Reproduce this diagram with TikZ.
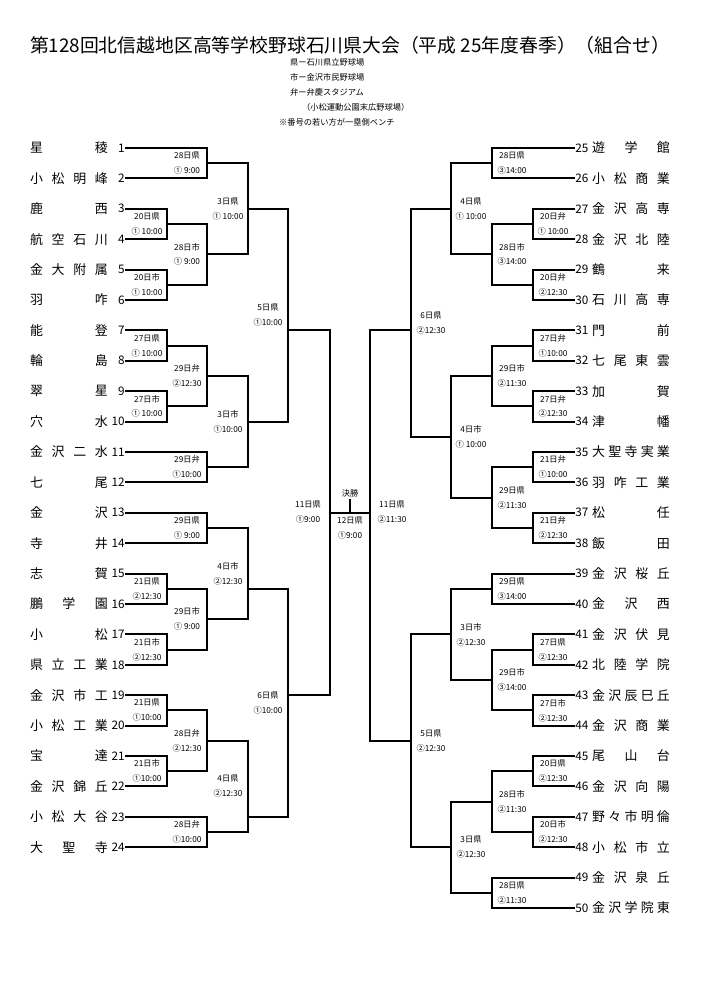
\documentclass[tikz,border=0pt]{standalone}
\usepackage{fontspec}
\setmainfont{Noto Sans CJK JP}
\usetikzlibrary{positioning}
\tikzset{bline/.style={line width=1.6pt, line cap=rect},
  lbl/.style={font=\fontsize{7}{12.7}\selectfont, align=center, inner sep=0pt},
  tnum/.style={font=\fontsize{10}{10}\selectfont, inner sep=1pt},
  tname/.style={font=\fontsize{11}{11}\selectfont, inner sep=0pt}}

\begin{document}
\begin{tikzpicture}[x=0.85pt, y=-0.85pt]
\useasboundingbox (0,0) rectangle (700,990);

\node[font=\fontsize{16}{16}\selectfont] (title) at (350,45) {第128回北信越地区高等学校野球石川県大会（平成 25年度春季）（組合せ）};
\node[lbl, anchor=west] (n1) at (290,62) {県ー石川県立野球場};
\node[lbl, anchor=west] (n2) at (290,77) {市ー金沢市民野球場};
\node[lbl, anchor=west] (n3) at (290,92) {弁ー弁慶スタジアム};
\node[lbl, anchor=west] (n4) at (302,107) {（小松運動公園末広野球場）};
\node[lbl, anchor=west] (n5) at (279,122) {※番号の若い方が一塁側ベンチ};

% left teams
\foreach \n/\nm/\xe in {1/{星\hfill 稜}/207, 2/{小\hfill 松\hfill 明\hfill 峰}/207,
  3/{鹿\hfill 西}/167, 4/{航\hfill 空\hfill 石\hfill 川}/167, 5/{金\hfill 大\hfill 附\hfill 属}/167,
  6/{羽\hfill 咋}/167, 7/{能\hfill 登}/167, 8/{輪\hfill 島}/167, 9/{翠\hfill 星}/167,
  10/{穴\hfill 水}/167, 11/{金\hfill 沢\hfill 二\hfill 水}/207, 12/{七\hfill 尾}/207,
  13/{金\hfill 沢}/207, 14/{寺\hfill 井}/207, 15/{志\hfill 賀}/167, 16/{鵬\hfill 学\hfill 園}/167,
  17/{小\hfill 松}/167, 18/{県\hfill 立\hfill 工\hfill 業}/167, 19/{金\hfill 沢\hfill 市\hfill 工}/167,
  20/{小\hfill 松\hfill 工\hfill 業}/167, 21/{宝\hfill 達}/167, 22/{金\hfill 沢\hfill 錦\hfill 丘}/167,
  23/{小\hfill 松\hfill 大\hfill 谷}/207, 24/{大\hfill 聖\hfill 寺}/207}{
  \node[tnum, anchor=east] (num\n) at (126,{148+(\n-1)*30.4}) {\n};
  \node[tname, anchor=east] (team\n) at (108,{148+(\n-1)*30.4}) {\hbox to 66pt{\nm}};
  \draw[bline] (num\n.east) -- (\xe,{148+(\n-1)*30.4});
}

% right teams
\foreach \n/\nm/\xe in {25/{遊\hfill 学\hfill 館}/492, 26/{小\hfill 松\hfill 商\hfill 業}/492,
  27/{金\hfill 沢\hfill 高\hfill 専}/533, 28/{金\hfill 沢\hfill 北\hfill 陸}/533, 29/{鶴\hfill 来}/533,
  30/{石\hfill 川\hfill 高\hfill 専}/533, 31/{門\hfill 前}/533, 32/{七\hfill 尾\hfill 東\hfill 雲}/533,
  33/{加\hfill 賀}/533, 34/{津\hfill 幡}/533, 35/{大\hfill 聖\hfill 寺\hfill 実\hfill 業}/533,
  36/{羽\hfill 咋\hfill 工\hfill 業}/533, 37/{松\hfill 任}/533, 38/{飯\hfill 田}/533,
  39/{金\hfill 沢\hfill 桜\hfill 丘}/492, 40/{金\hfill 沢\hfill 西}/492, 41/{金\hfill 沢\hfill 伏\hfill 見}/533,
  42/{北\hfill 陸\hfill 学\hfill 院}/533, 43/{金\hfill 沢\hfill 辰\hfill 巳\hfill 丘}/533,
  44/{金\hfill 沢\hfill 商\hfill 業}/533, 45/{尾\hfill 山\hfill 台}/533, 46/{金\hfill 沢\hfill 向\hfill 陽}/533,
  47/{野\hfill 々\hfill 市\hfill 明\hfill 倫}/533, 48/{小\hfill 松\hfill 市\hfill 立}/533,
  49/{金\hfill 沢\hfill 泉\hfill 丘}/492, 50/{金\hfill 沢\hfill 学\hfill 院\hfill 東}/492}{
  \node[tnum, anchor=west] (num\n) at (574,{148+(\n-25)*30.4}) {\n};
  \node[tname, anchor=west] (team\n) at (592,{148+(\n-25)*30.4}) {\hbox to 66pt{\nm}};
  \draw[bline] (num\n.west) -- (\xe,{148+(\n-25)*30.4});
}

% left matches: x / top / bottom / out / next x / date / time
\foreach \xv/\yt/\yb/\yo/\xn/\dt/\tm in {
  207/148/178.4/163.2/248/28日県/① 9:00, 167/208.8/239.2/224/207/20日県/① 10:00,
  167/269.6/300/284.8/207/20日市/① 10:00, 207/224/284.8/254.4/248/28日市/① 9:00,
  248/163.2/254.4/208.8/288/3日県/① 10:00, 167/330.4/360.8/345.6/207/27日県/① 10:00,
  167/391.2/421.6/406.4/207/27日市/① 10:00, 207/345.6/406.4/376/248/29日弁/②12:30,
  207/452/482.4/467.2/248/29日弁/①10:00, 248/376/467.2/421.6/288/3日市/①10:00,
  288/208.8/421.6/330.4/330/5日県/①10:00, 207/512.8/543.2/528/248/29日県/① 9:00,
  167/573.6/604/588.8/207/21日県/②12:30, 167/634.4/664.8/649.6/207/21日市/②12:30,
  207/588.8/649.6/619.2/248/29日市/① 9:00, 248/528/619.2/588.8/288/4日市/②12:30,
  167/695.2/725.6/710.4/207/21日県/①10:00, 167/756/786.4/771.2/207/21日市/①10:00,
  207/710.4/771.2/740.8/248/28日弁/②12:30, 207/816.8/847.2/832/248/28日弁/①10:00,
  248/740.8/832/816.8/288/4日県/②12:30, 288/588.8/816.8/695.2/330/6日県/①10:00}{
  \draw[bline] (\xv,\yt) -- (\xv,\yb);
  \draw[bline] (\xv,\yo) -- (\xn,\yo);
  \node[lbl] at ({\xv-20},{(\yt+\yb)/2}) {\dt\\\tm};
}

% right matches
\foreach \xv/\yt/\yb/\yo/\xn/\dt/\tm in {
  492/148/178.4/163.2/451/28日県/③14:00, 533/208.8/239.2/224/492/20日弁/① 10:00,
  533/269.6/300/284.8/492/20日弁/②12:30, 492/224/284.8/254.4/451/28日市/③14:00,
  451/163.2/254.4/208.8/411/4日県/① 10:00, 533/330.4/360.8/345.6/492/27日弁/①10:00,
  533/391.2/421.6/406.4/492/27日弁/②12:30, 492/345.6/406.4/376/451/29日市/②11:30,
  533/452/482.4/467.2/492/21日弁/①10:00, 533/512.8/543.2/528/492/21日弁/②12:30,
  492/467.2/528/497.6/451/29日県/②11:30, 451/376/497.6/436.8/411/4日市/① 10:00,
  411/208.8/436.8/330.4/370/6日県/②12:30, 492/573.6/604/588.8/451/29日県/③14:00,
  533/634.4/664.8/649.6/492/27日県/②12:30, 533/695.2/725.6/710.4/492/27日市/②12:30,
  492/649.6/710.4/680/451/29日市/③14:00, 451/588.8/680/634.4/411/3日市/②12:30,
  533/756/786.4/771.2/492/20日県/②12:30, 533/816.8/847.2/832/492/20日市/②12:30,
  492/771.2/832/801.6/451/28日市/②11:30, 492/877.6/908/892.8/451/28日県/②11:30,
  451/801.6/892.8/847.2/411/3日県/②12:30, 411/634.4/847.2/740.8/370/5日県/②12:30}{
  \draw[bline] (\xv,\yt) -- (\xv,\yb);
  \draw[bline] (\xv,\yo) -- (\xn,\yo);
  \node[lbl] at ({\xv+20},{(\yt+\yb)/2}) {\dt\\\tm};
}

% final
\coordinate (fl) at (330,513);
\coordinate (fr) at (370,513);
\coordinate (fm) at (350,513);
\draw[bline] (330,330.4) -- (330,695.2);
\draw[bline] (370,330.4) -- (370,740.8);
\draw[bline] (fl) -- (fr);
\draw[bline] (fm) -- ++(0,-13) coordinate (ftop);
\node[lbl, above=2pt of ftop] (final) {決勝};
\node[lbl] (semil) at (308,512) {11日県\\①9:00};
\node[lbl] (semir) at (392,512) {11日県\\②11:30};
\node[lbl] (finlbl) at (350,528) {12日県\\①9:00};

\end{tikzpicture}
\end{document}
